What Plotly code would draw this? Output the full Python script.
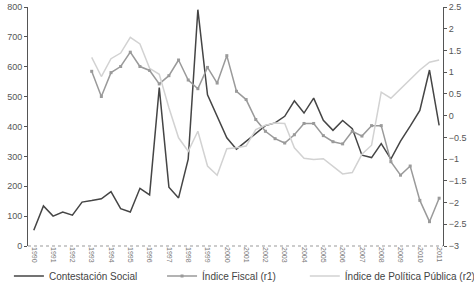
import plotly.graph_objects as go

periods = [f"{1990 + i // 2}-{'I' if i % 2 == 0 else 'II'}" for i in range(43)]
tick_labels = [str(1990 + i) for i in range(22)]

contestacion = [53, 134, 100, 114, 103, 147, 152, 158, 182, 125, 114, 193, 171, 530,
                197, 161, 291, 791, 506, 434, 362, 324, 351, 379, 403, 412, 434, 486,
                445, 495, 421, 387, 420, 393, 304, 296, 343, 291, 351, 401, 454, 589, 404]

indice_fiscal = [None] * 6 + [1.02, 0.44, 0.99, 1.13, 1.46, 1.13, 1.04, 0.73, 0.92, 1.28,
                              0.82, 0.62, 1.11, 0.75, 1.38, 0.56, 0.37, -0.09, -0.36, -0.53,
                              -0.63, -0.44, -0.18, -0.18, -0.46, -0.60, -0.65, -0.36, -0.47,
                              -0.23, -0.23, -1.06, -1.37, -1.16, -1.95, -2.44, -1.90]

politica_publica = [None] * 6 + [1.34, 0.90, 1.31, 1.44, 1.80, 1.65, 1.09, 0.95, 0.18, -0.51,
                                 -0.82, -0.36, -1.16, -1.37, -0.76, -0.74, -0.70, -0.32, -0.22,
                                 -0.17, -0.18, -0.74, -0.98, -1.01, -0.99, -1.16, -1.34, -1.31,
                                 -0.89, -0.68, 0.54, 0.40, 0.62, 0.85, 1.05, 1.23, 1.28]

FONT = "Liberation Sans"
xs = list(range(len(periods)))

fig = go.Figure()
fig.add_trace(go.Scatter(x=xs, y=contestacion, name="Contestación Social", mode="lines",
                         line=dict(color="#454545", width=1.5), legend="legend",
                         showlegend=True))
fig.add_trace(go.Scatter(x=xs, y=indice_fiscal, name="Índice Fiscal (r1)", mode="lines+markers",
                         line=dict(color="#9a9a9a", width=1.5),
                         marker=dict(symbol="square", size=3, color="#9a9a9a"),
                         yaxis="y2", legend="legend2", showlegend=True))
fig.add_trace(go.Scatter(x=xs, y=politica_publica, name="Índice de Política Pública (r2)",
                         mode="lines", line=dict(color="#d2d2d2", width=1.5),
                         yaxis="y2", legend="legend3", showlegend=True))

leg_common = dict(orientation="h", yref="container", y=0.035, xanchor="left",
                  yanchor="middle", itemwidth=30, font=dict(size=10, color="#444444"),
                  bgcolor="rgba(0,0,0,0)")

fig.update_layout(
    width=474, height=286,
    margin=dict(l=28, r=31, t=7, b=40, autoexpand=False),
    paper_bgcolor="white", plot_bgcolor="white",
    showlegend=True,
    font=dict(family=FONT, size=9, color="#444444"),
    xaxis=dict(range=[-0.6, 42.4], tickmode="array",
               tickvals=xs[::2], ticktext=tick_labels, tickangle=90,
               tickfont=dict(size=7, color="#777777"),
               showgrid=False, zeroline=False, showline=False, ticks=""),
    yaxis=dict(range=[0, 800], dtick=100, showgrid=False, zeroline=False,
               showline=True, linecolor="#555555", linewidth=1,
               ticks="outside", ticklen=3, tickcolor="#555555",
               tickfont=dict(size=9, color="#555555")),
    yaxis2=dict(range=[-3, 2.5], dtick=0.5, overlaying="y", side="right",
                showgrid=False, zeroline=False, showline=True,
                linecolor="#555555", linewidth=1, ticks="outside", ticklen=3,
                tickcolor="#555555", tickfont=dict(size=9, color="#555555")),
    legend=dict(x=-0.046, **leg_common),
    legend2=dict(x=0.323, **leg_common),
    legend3=dict(x=0.667, **leg_common),
    shapes=[dict(type="line", xref="paper", yref="paper", x0=0, x1=1, y0=0, y1=0,
                 line=dict(color="#999999", width=1, dash="dot"))],
)

fig.write_html("out.html")
